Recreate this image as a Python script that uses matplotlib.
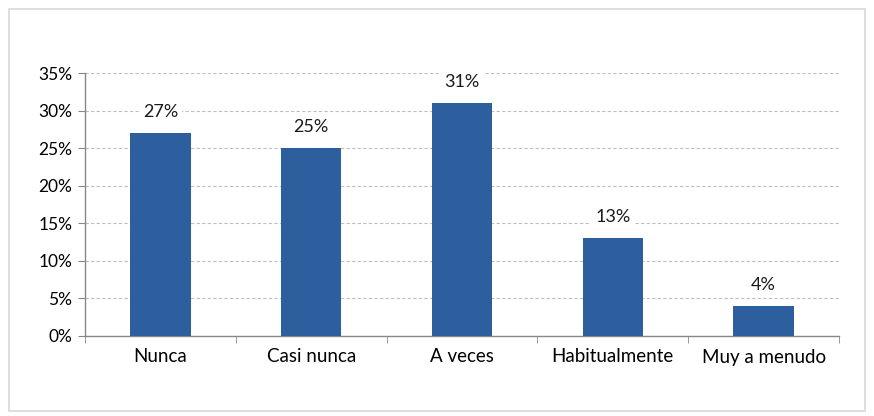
import matplotlib.pyplot as plt
from matplotlib.patches import Rectangle
import numpy as np

plt.rcParams['font.family'] = ['Lato', 'DejaVu Sans']

categories = ['Nunca', 'Casi nunca', 'A veces', 'Habitualmente', 'Muy a menudo']
values = [27, 25, 31, 13, 4]
yticks = [0, 5, 10, 15, 20, 25, 30, 35]

fig = plt.figure(figsize=(8.74, 4.16), dpi=100)
ax = fig.add_axes([85 / 874, 1 - 336 / 416, (839 - 85) / 874, (336 - 73) / 416])

# outer chart border
fig.patches.append(Rectangle((9 / 874, 5 / 416), 856 / 874, 402 / 416,
                             transform=fig.transFigure, fill=False,
                             edgecolor='#D9D9D9', linewidth=1.2))

x = np.arange(len(categories))
ax.bar(x, values, width=0.4, color='#2D5E9E', zorder=3)

for xi, v in zip(x, values):
    ax.text(xi, v + 2.8, '{}%'.format(v), ha='center', va='center', fontsize=13,
            color='#1a1a1a', zorder=4,
            bbox=dict(facecolor='white', edgecolor='none', pad=3))

ax.set_xlim(-0.5, len(categories) - 0.5)
ax.set_ylim(0, 35)
ax.set_yticks(yticks)
ax.set_yticklabels(['{}%'.format(t) for t in yticks], fontsize=12.5)
ax.set_xticks(x)
ax.set_xticklabels(categories, fontsize=13.5)
ax.set_xticks(np.arange(-0.5, len(categories)), minor=True)

ax.yaxis.grid(True, linestyle=(0, (3, 2)), color='#BFBFBF', linewidth=0.8, zorder=0)
ax.tick_params(axis='x', which='major', length=0, pad=9)
ax.tick_params(axis='x', which='minor', length=5, direction='out', color='#888888')
ax.tick_params(axis='y', length=5, direction='out', color='#888888', pad=4)

for s in ['top', 'right']:
    ax.spines[s].set_visible(False)
for s in ['left', 'bottom']:
    ax.spines[s].set_color('#888888')
    ax.spines[s].set_linewidth(1)

fig.savefig('out.png', dpi=100)
